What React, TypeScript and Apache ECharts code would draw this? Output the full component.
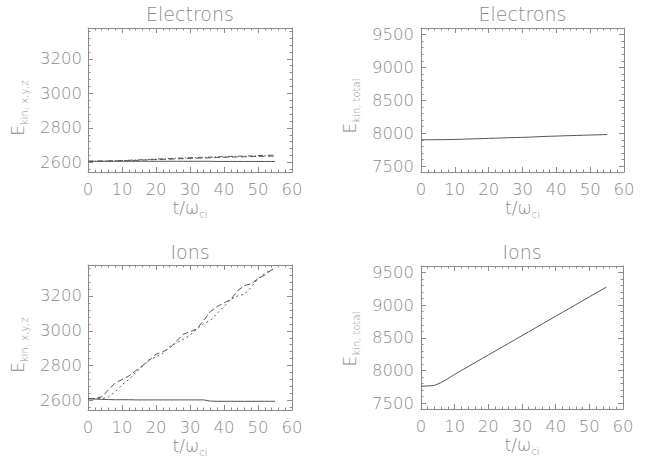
import React, { useEffect, useRef } from "react";
import * as echarts from "echarts";

// time axis (t / omega_ci)
const T = [0, 2, 4, 6, 8, 10, 12, 14, 16, 18, 20, 22, 24, 26, 28, 30, 32, 34, 36, 38, 40, 42, 44, 46, 48, 50, 52, 54, 55];

// Electrons, kinetic energy components
const ELEC_Z = [2607, 2607, 2607, 2607, 2607, 2607, 2607, 2607, 2607, 2607, 2607, 2607, 2607, 2607, 2607, 2607, 2607, 2607, 2607, 2606, 2606, 2606, 2606, 2606, 2606, 2606, 2606, 2606, 2606];
const ELEC_X = [2607, 2607, 2608, 2608, 2609, 2610, 2611, 2612, 2614, 2615, 2617, 2618, 2619, 2621, 2622, 2624, 2625, 2626, 2627, 2629, 2630, 2631, 2632, 2633, 2634, 2635, 2636, 2637, 2637];
const ELEC_Y = [2607, 2607, 2608, 2609, 2610, 2611, 2613, 2614, 2616, 2618, 2620, 2621, 2623, 2625, 2626, 2628, 2629, 2630, 2631, 2633, 2634, 2635, 2636, 2637, 2638, 2640, 2641, 2642, 2642];
// Electrons total
const ELEC_TOTAL = [7900, 7900, 7901, 7902, 7903, 7905, 7908, 7912, 7915, 7918, 7922, 7925, 7928, 7931, 7934, 7937, 7940, 7945, 7950, 7953, 7956, 7960, 7963, 7966, 7969, 7972, 7975, 7978, 7980];

// Ions, kinetic energy components
const ION_Z = [2610, 2608, 2606, 2605, 2604, 2604, 2604, 2603, 2603, 2603, 2603, 2603, 2603, 2603, 2603, 2603, 2603, 2603, 2596, 2595, 2595, 2595, 2595, 2595, 2595, 2595, 2595, 2595, 2595];
const ION_X = [2610, 2610, 2620, 2660, 2700, 2720, 2740, 2770, 2800, 2830, 2865, 2880, 2900, 2940, 2980, 2995, 3010, 3060, 3110, 3140, 3160, 3180, 3230, 3260, 3270, 3300, 3320, 3350, 3362];
const ION_Y = [2610, 2610, 2610, 2620, 2650, 2690, 2720, 2760, 2795, 2835, 2850, 2870, 2910, 2930, 2950, 2975, 3010, 3040, 3060, 3100, 3140, 3180, 3200, 3210, 3250, 3300, 3330, 3350, 3355];
// Ions total
const ION_TOTAL = [7760, 7762, 7772, 7815, 7875, 7940, 8000, 8059, 8119, 8178, 8237, 8297, 8356, 8415, 8474, 8534, 8593, 8653, 8712, 8771, 8830, 8890, 8949, 9008, 9068, 9127, 9186, 9245, 9275];

// axes
const X_MIN = 0;
const X_MAX = 60;
const X_STEP = 10;
const Y_COMP = { min: 2545, max: 3378, step: 200 };
const Y_TOT = { min: 7410, max: 9600, step: 500 };

const TITLES = ["Electrons", "Electrons", "Ions", "Ions"];
const Y_TITLE_COMP = "kin, x,y,z";
const Y_TITLE_TOT = "kin, total";

const FRAME = "#8a8a8a";
const TEXT = "#8a8a8a";
const LINE = "#555555";
const FONT = "'DejaVu Sans', 'Liberation Sans', sans-serif";
const WEIGHT = 200;

const PANELS = [
  { left: 88, top: 28, width: 204, height: 144, y: Y_COMP, sub: Y_TITLE_COMP, titleY: 14, yTitleX: 19, yTitleY: 108, yMargin: 6 },
  { left: 421, top: 28, width: 203, height: 144, y: Y_TOT, sub: Y_TITLE_TOT, titleY: 14, yTitleX: 351, yTitleY: 106, yMargin: 7 },
  { left: 88, top: 265, width: 204, height: 145, y: Y_COMP, sub: Y_TITLE_COMP, titleY: 252, yTitleX: 19, yTitleY: 345, yMargin: 6 },
  { left: 421, top: 266, width: 202, height: 143, y: Y_TOT, sub: Y_TITLE_TOT, titleY: 252, yTitleX: 351, yTitleY: 339, yMargin: 7 },
];

function xAxisFor(grid: number, position: string, showLabel: boolean) {
  return {
    type: "value",
    gridIndex: grid,
    position,
    min: X_MIN,
    max: X_MAX,
    interval: X_STEP,
    axisLine: { show: true, onZero: false, lineStyle: { color: FRAME, width: 1 } },
    axisTick: { show: true, inside: true, length: 5, lineStyle: { color: FRAME, width: 1 } },
    minorTick: { show: true, splitNumber: 5, length: 2.5, lineStyle: { color: FRAME, width: 1 } },
    splitLine: { show: false },
    minorSplitLine: { show: false },
    axisLabel: {
      show: showLabel,
      color: TEXT,
      fontSize: 16.5,
      fontWeight: WEIGHT,
      fontFamily: FONT,
      margin: 9,
      formatter: (v: number) => String(v),
    },
  };
}

function yAxisFor(grid: number, position: string, showLabel: boolean, y: { min: number; max: number; step: number }, margin: number) {
  return {
    type: "value",
    gridIndex: grid,
    position,
    min: y.min,
    max: y.max,
    minInterval: y.step,
    maxInterval: y.step,
    splitNumber: 5,
    axisLine: { show: true, onZero: false, lineStyle: { color: FRAME, width: 1 } },
    axisTick: { show: true, inside: true, length: 5, lineStyle: { color: FRAME, width: 1 } },
    minorTick: { show: true, splitNumber: 5, length: 2.5, lineStyle: { color: FRAME, width: 1 } },
    splitLine: { show: false },
    minorSplitLine: { show: false },
    axisLabel: {
      show: showLabel,
      showMinLabel: false,
      showMaxLabel: false,
      color: TEXT,
      fontSize: 16.5,
      fontWeight: WEIGHT,
      fontFamily: FONT,
      margin,
      formatter: (v: number) => String(v),
    },
  };
}

function lineSeries(panel: number, values: number[], type: any) {
  return {
    type: "line",
    xAxisIndex: panel * 2,
    yAxisIndex: panel * 2,
    data: T.map((t, i) => [t, values[i]]),
    showSymbol: false,
    symbol: "none",
    silent: true,
    lineStyle: { color: LINE, width: 1, type },
  };
}

export default function App() {
  const ref = useRef<HTMLDivElement>(null);

  useEffect(() => {
    if (!ref.current) return;
    const chart = echarts.init(ref.current, undefined, { renderer: "svg" });

    const grid = PANELS.map((p) => ({
      left: p.left,
      top: p.top,
      width: p.width,
      height: p.height,
      containLabel: false,
      outerBoundsMode: "none",
      show: false,
    }));

    const xAxis: any[] = [];
    const yAxis: any[] = [];
    PANELS.forEach((p, i) => {
      xAxis.push(xAxisFor(i, "bottom", true));
      xAxis.push(xAxisFor(i, "top", false));
      yAxis.push(yAxisFor(i, "left", true, p.y, p.yMargin));
      yAxis.push(yAxisFor(i, "right", false, p.y, p.yMargin));
    });

    const series = [
      lineSeries(0, ELEC_Z, "solid"),
      lineSeries(0, ELEC_X, [6, 3]),
      lineSeries(0, ELEC_Y, [5, 2, 1, 2]),
      lineSeries(1, ELEC_TOTAL, "solid"),
      lineSeries(2, ION_Z, "solid"),
      lineSeries(2, ION_X, [6, 3]),
      lineSeries(2, ION_Y, [2, 3]),
      lineSeries(3, ION_TOTAL, "solid"),
    ];

    const sub = {
      a: { fontSize: 17, fontWeight: WEIGHT, fontFamily: FONT, fill: TEXT, verticalAlign: "bottom", padding: [0, 0, 3, 0] },
      b: { fontSize: 10, fontWeight: WEIGHT, fontFamily: FONT, fill: TEXT, verticalAlign: "bottom" },
    };

    const graphic: any[] = [];
    PANELS.forEach((p, i) => {
      const cx = p.left + p.width / 2;
      graphic.push({
        type: "text",
        x: cx,
        y: p.titleY,
        silent: true,
        style: {
          text: TITLES[i],
          fill: TEXT,
          fontSize: 19,
          fontWeight: WEIGHT,
          fontFamily: FONT,
          align: "center",
          verticalAlign: "middle",
        },
      });
      graphic.push({
        type: "text",
        x: cx,
        y: p.top + p.height + 37,
        silent: true,
        style: {
          text: "{a|t/ω}{b|ci}",
          align: "center",
          verticalAlign: "middle",
          rich: sub,
        },
      });
      graphic.push({
        type: "text",
        x: p.yTitleX,
        y: p.yTitleY,
        rotation: Math.PI / 2,
        silent: true,
        style: {
          text: "{a|E}{b|" + p.sub + "}",
          align: "center",
          verticalAlign: "middle",
          rich: sub,
        },
      });
    });

    chart.setOption({
      animation: false,
      backgroundColor: "#ffffff",
      grid,
      xAxis,
      yAxis,
      series,
      graphic,
    });

    return () => {
      chart.dispose();
    };
  }, []);

  return (
    <div
      ref={ref}
      style={{ position: "absolute", left: 0, top: 0, width: 653, height: 466 }}
    />
  );
}
